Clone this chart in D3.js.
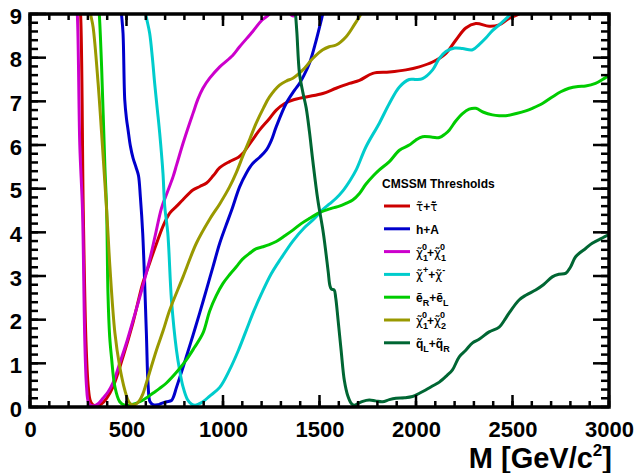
<!DOCTYPE html>
<html>
<head>
<meta charset="utf-8">
<script src="https://cdn.jsdelivr.net/npm/d3@7"></script>
<style>
  body { margin: 0; background: #fff; }
  svg { display: block; font-family: "Liberation Sans", Arial, Helvetica, sans-serif; }
  .axis text { font-weight: bold; fill: #000; }
</style>
</head>
<body>
<svg width="637" height="473"></svg>
<script>
// threshold curves, [M in GeV/c^2, value]
const stau = [[255, 9.3], [262, 9.0], [276, 4.5], [290, 1.5], [302, 0.46], [312, 0.15], [325, 0.05], [345, 0.03], [370, 0.07],
  [397, 0.2], [430, 0.46], [482, 1.15], [533, 1.92], [584, 2.83], [620, 3.3], [656, 3.75], [690, 4.15], [724, 4.44],
  [760, 4.6], [791, 4.74], [844, 4.97], [880, 5.05], [915, 5.13], [950, 5.3], [983, 5.48], [1034, 5.62], [1080, 5.72],
  [1103, 5.81], [1150, 6.1], [1189, 6.34], [1240, 6.6], [1276, 6.8], [1320, 6.95], [1362, 7.03], [1431, 7.1],
  [1517, 7.18], [1586, 7.3], [1655, 7.41], [1707, 7.48], [1776, 7.64], [1862, 7.67], [1948, 7.72], [2017, 7.79],
  [2086, 7.9], [2155, 8.1], [2206, 8.4], [2258, 8.68], [2310, 8.78], [2379, 8.72], [2431, 8.75], [2482, 8.9],
  [2534, 9.0], [2570, 9.1]]
const hA = [[468, 9.3], [474, 9.0], [482, 8.56], [491, 7.03], [500, 6.6], [508, 6.35], [520, 5.98], [534, 5.7],
  [550, 5.48], [562, 5.3], [572, 4.8], [584, 3.98], [603, 1.69], [612, 0.5], [622, 0.12], [640, 0.05], [660, 0.05],
  [685, 0.09], [707, 0.12], [733, 0.15], [745, 0.25], [759, 0.45], [785, 0.8], [810, 1.15], [845, 1.65], [879, 2.15],
  [915, 2.7], [948, 3.21], [983, 3.75], [1015, 4.15], [1045, 4.51], [1086, 5.04], [1120, 5.35], [1155, 5.58],
  [1190, 5.72], [1224, 5.88], [1250, 6.1], [1276, 6.42], [1327, 6.95], [1370, 7.25], [1396, 7.41], [1420, 7.6],
  [1448, 7.87], [1480, 8.35], [1517, 9.0], [1535, 9.3]]
const chi11 = [[238, 9.3], [245, 9.0], [258, 6.0], [272, 4.5], [284, 1.5], [293, 0.46], [302, 0.12], [315, 0.04],
  [335, 0.03], [355, 0.08], [378, 0.2], [405, 0.35], [430, 0.55], [465, 1.0], [500, 1.47], [535, 2.0], [569, 2.52],
  [620, 3.37], [650, 3.95], [681, 4.55], [710, 4.9], [741, 5.27], [760, 5.55], [793, 6.04], [827, 6.5], [845, 6.73],
  [870, 7.05], [896, 7.3], [931, 7.53], [983, 7.79], [1050, 8.05], [1086, 8.25], [1154, 8.6], [1200, 8.85],
  [1241, 9.0], [1290, 9.3], [1330, 9.2], [1355, 8.97], [1375, 8.97], [1395, 9.2], [1420, 9.4]]
const chiPM = [[594, 9.3], [600, 9.0], [620, 8.56], [634, 8.0], [646, 7.41], [660, 6.8], [672, 6.27], [689, 5.35],
  [698, 4.6], [714, 3.98], [733, 2.45], [759, 1.3], [775, 0.85], [793, 0.46], [815, 0.18], [836, 0.07], [855, 0.04],
  [875, 0.07], [896, 0.12], [931, 0.25], [983, 0.45], [1034, 0.85], [1080, 1.3], [1120, 1.75], [1160, 2.2],
  [1200, 2.6], [1250, 3.05], [1300, 3.4], [1362, 3.8], [1420, 4.1], [1470, 4.3], [1517, 4.52], [1552, 4.65],
  [1586, 4.78], [1621, 4.95], [1660, 5.2], [1690, 5.43], [1741, 5.96], [1810, 6.5], [1862, 6.95], [1914, 7.33],
  [1965, 7.5], [2000, 7.5], [2034, 7.52], [2086, 7.72], [2120, 7.98], [2155, 8.14], [2200, 8.22], [2241, 8.21],
  [2293, 8.18], [2327, 8.3], [2362, 8.45], [2396, 8.62], [2431, 8.75], [2491, 9.0], [2520, 9.15]]
const eRL = [[353, 9.3], [359, 9.0], [371, 7.79], [388, 5.5], [397, 4.51], [404, 2.6], [413, 1.6], [422, 1.15],
  [440, 0.46], [465, 0.12], [491, 0.04], [530, 0.06], [569, 0.12], [600, 0.2], [638, 0.32], [670, 0.42], [707, 0.55],
  [760, 0.8], [810, 1.08], [850, 1.35], [896, 1.69], [931, 2.2], [965, 2.55], [1000, 2.83], [1034, 3.03],
  [1069, 3.21], [1100, 3.38], [1138, 3.52], [1170, 3.62], [1207, 3.67], [1240, 3.72], [1276, 3.79], [1320, 3.92],
  [1362, 4.05], [1405, 4.2], [1448, 4.32], [1500, 4.45], [1534, 4.51], [1570, 4.56], [1603, 4.6], [1640, 4.67],
  [1672, 4.74], [1707, 4.89], [1740, 5.1], [1780, 5.3], [1810, 5.43], [1862, 5.62], [1914, 5.88], [1965, 6.0],
  [1998, 6.11], [2034, 6.19], [2085, 6.18], [2121, 6.17], [2150, 6.25], [2172, 6.34], [2206, 6.55], [2241, 6.72],
  [2275, 6.82], [2310, 6.84], [2350, 6.75], [2396, 6.69], [2431, 6.67], [2465, 6.67], [2520, 6.72], [2569, 6.78],
  [2603, 6.84], [2655, 6.95], [2706, 7.1], [2750, 7.22], [2793, 7.3], [2840, 7.34], [2879, 7.35], [2930, 7.41],
  [2974, 7.52], [3000, 7.6]]
const chi12 = [[308, 9.3], [314, 9.0], [327, 8.7], [353, 7.41], [371, 6.27], [388, 5.13], [397, 4.51], [405, 3.9],
  [414, 3.21], [440, 1.69], [465, 0.92], [491, 0.39], [512, 0.12], [530, 0.05], [550, 0.07], [569, 0.16], [585, 0.3],
  [603, 0.55], [655, 1.3], [690, 1.75], [724, 2.22], [793, 2.98], [862, 3.75], [931, 4.3], [983, 4.65],
  [1034, 5.04], [1070, 5.38], [1103, 5.75], [1140, 6.15], [1172, 6.5], [1210, 6.85], [1241, 7.1], [1293, 7.37],
  [1330, 7.47], [1362, 7.53], [1414, 7.72], [1465, 7.98], [1517, 8.18], [1550, 8.25], [1586, 8.29], [1638, 8.48],
  [1680, 8.75], [1715, 9.0], [1730, 9.12]]
const sqLR = [[1370, 9.3], [1376, 9.0], [1383, 8.56], [1396, 7.65], [1414, 7.2], [1431, 6.85], [1448, 6.3],
  [1465, 5.65], [1491, 4.75], [1520, 3.98], [1545, 3.1], [1554, 2.78], [1562, 2.7], [1576, 2.68], [1584, 2.5],
  [1596, 2.0], [1612, 1.3], [1629, 0.6], [1647, 0.25], [1665, 0.08], [1681, 0.04], [1700, 0.08], [1724, 0.13],
  [1758, 0.16], [1790, 0.14], [1827, 0.12], [1862, 0.17], [1896, 0.2], [1940, 0.21], [1982, 0.24], [2020, 0.32],
  [2050, 0.39], [2085, 0.48], [2121, 0.57], [2160, 0.72], [2189, 0.85], [2224, 1.15], [2258, 1.3], [2293, 1.47],
  [2327, 1.55], [2379, 1.72], [2431, 1.83], [2460, 2.0], [2482, 2.15], [2534, 2.45], [2569, 2.56], [2620, 2.68],
  [2660, 2.8], [2706, 2.98], [2740, 3.04], [2775, 3.06], [2800, 3.2], [2827, 3.44], [2879, 3.63], [2913, 3.75],
  [2965, 3.87], [3000, 3.95]]

const colors = ['#cc0000', '#0000cc', '#cc00cc', '#00cccc', '#00cc00', '#999900', '#006633']

// legend labels: [text, baseline shift, dx, font]
const G = 'g', N = 'n'
const labels = [
  [['\u03C4\u0303', 0, 0, G], ['+', 0, 0, N], ['\u03C4\u0303\u0304', 0, 0, G]],
  [['h+A', 0, 0, N]],
  [['\u03C7\u0303', 0, 0, G], ['1', 4, 0, N], ['0', -7, -6, N], ['+', 0, 0, N], ['\u03C7\u0303', 0, 0, G], ['1', 4, 0, N], ['0', -7, -6, N]],
  [['\u03C7\u0303', 0, 0, G], ['+', -6, 0, N], ['+', 0, 0, N], ['\u03C7\u0303', 0, 0, G], ['-', -6, 0, N]],
  [['e\u0303', 0, 0, N], ['R', 4, 0, N], ['+', 0, 0, N], ['e\u0303', 0, 0, N], ['L', 4, 0, N]],
  [['\u03C7\u0303', 0, 0, G], ['1', 4, 0, N], ['0', -7, -6, N], ['+', 0, 0, N], ['\u03C7\u0303', 0, 0, G], ['2', 4, 0, N], ['0', -7, -6, N]],
  [['q\u0303', 0, 0, N], ['L', 4, 0, N], ['+', 0, 0, N], ['q\u0303', 0, 0, N], ['R', 4, 0, N]]
]

const series = [stau, hA, chi11, chiPM, eRL, chi12, sqLR].map((data, i) => ({ data, color: colors[i], label: labels[i] }))

const svg = d3.select('svg')
const x0 = 30, x1 = 609, y0 = 407, y1 = 14

const x = d3.scaleLinear().domain([0, 3000]).range([x0, x1])
const y = d3.scaleLinear().domain([0, 9]).range([y0, y1])

svg.append('clipPath').attr('id', 'plot')
  .append('rect').attr('x', x0).attr('y', y1).attr('width', x1 - x0).attr('height', y0 - y1)

// tick positions
const xMajor = d3.range(0, 3001, 500)
const xMinor = d3.range(0, 3001, 100)
const yMajor = d3.range(0, 10, 1)
const yMinor = d3.range(0, 9.01, 0.2)

// labels via d3 axes (tick lines drawn separately)
const xAxis = svg.append('g').attr('class', 'axis')
  .attr('transform', `translate(0,${y0})`)
  .call(d3.axisBottom(x).tickValues(xMajor).tickSize(0).tickPadding(14).tickFormat(d3.format('d')))
xAxis.select('.domain').remove()
xAxis.selectAll('text').attr('font-size', 22)

const yAxis = svg.append('g').attr('class', 'axis')
  .attr('transform', `translate(${x0},0)`)
  .call(d3.axisLeft(y).tickValues(yMajor).tickSize(0).tickPadding(8).tickFormat(d3.format('d')))
yAxis.select('.domain').remove()
yAxis.selectAll('text').attr('font-size', 22).attr('dy', '0.42em')

// curves
const line = d3.line()
  .x(d => x(d[0]))
  .y(d => y(d[1]))
  .curve(d3.curveCatmullRom.alpha(0.5))

svg.append('g').attr('clip-path', 'url(#plot)')
  .selectAll('path')
  .data(series)
  .join('path')
  .attr('d', d => line(d.data))
  .attr('fill', 'none')
  .attr('stroke', d => d.color)
  .attr('stroke-width', 3)
  .attr('stroke-linejoin', 'round')

// frame
svg.append('rect')
  .attr('x', x0).attr('y', y1)
  .attr('width', x1 - x0).attr('height', y0 - y1)
  .attr('fill', 'none').attr('stroke', '#000').attr('stroke-width', 3.5)

// ticks on top
const tickG = svg.append('g').attr('stroke', '#000').attr('stroke-width', 2.5)
const xTicks = (vals, len) => {
  tickG.append('g').selectAll('line').data(vals).join('line')
    .attr('x1', d => x(d)).attr('x2', d => x(d)).attr('y1', y0).attr('y2', y0 - len)
  tickG.append('g').selectAll('line').data(vals).join('line')
    .attr('x1', d => x(d)).attr('x2', d => x(d)).attr('y1', y1).attr('y2', y1 + len)
}
const yTicks = (vals, len) => {
  tickG.append('g').selectAll('line').data(vals).join('line')
    .attr('y1', d => y(d)).attr('y2', d => y(d)).attr('x1', x0).attr('x2', x0 + len)
  tickG.append('g').selectAll('line').data(vals).join('line')
    .attr('y1', d => y(d)).attr('y2', d => y(d)).attr('x1', x1).attr('x2', x1 - len)
}
xTicks(xMinor, 6)
xTicks(xMajor, 12)
yTicks(yMinor, 8)
yTicks(yMajor, 16)

// axis title
const title = svg.append('text')
  .attr('x', 612).attr('y', 468)
  .attr('text-anchor', 'end')
  .attr('font-size', 29).attr('font-weight', 'bold')
title.append('tspan').text('M [GeV/c')
title.append('tspan').attr('font-size', 17).attr('dy', -12).text('2')
title.append('tspan').attr('dy', 12).text(']')

// legend
const legend = svg.append('g').attr('transform', 'translate(382,0)')
legend.append('text')
  .attr('x', 0).attr('y', 188)
  .attr('font-size', 12).attr('font-weight', 'bold')
  .text('CMSSM Thresholds')

const rows = legend.selectAll('g.row')
  .data(series)
  .join('g')
  .attr('class', 'row')
  .attr('transform', (d, i) => `translate(0,${206 + i * 22.8})`)

rows.append('line')
  .attr('x1', 2).attr('x2', 28)
  .attr('stroke', d => d.color).attr('stroke-width', 3)

rows.append('text')
  .attr('x', 34).attr('y', 5)
  .attr('font-size', 12).attr('font-weight', 'bold')
  .each(function(d) {
    const t = d3.select(this)
    let shift = 0
    d.label.forEach(([txt, s, dx, f]) => {
      const sp = t.append('tspan')
        .attr('dy', s - shift)
        .attr('dx', dx)
        .text(txt)
      if (f === G) sp.attr('font-family', 'DejaVu Sans').attr('font-weight', 'normal').attr('font-size', 12)
      if (s !== 0) sp.attr('font-size', 9)
      shift = s
    })
  })
</script>
</body>
</html>
